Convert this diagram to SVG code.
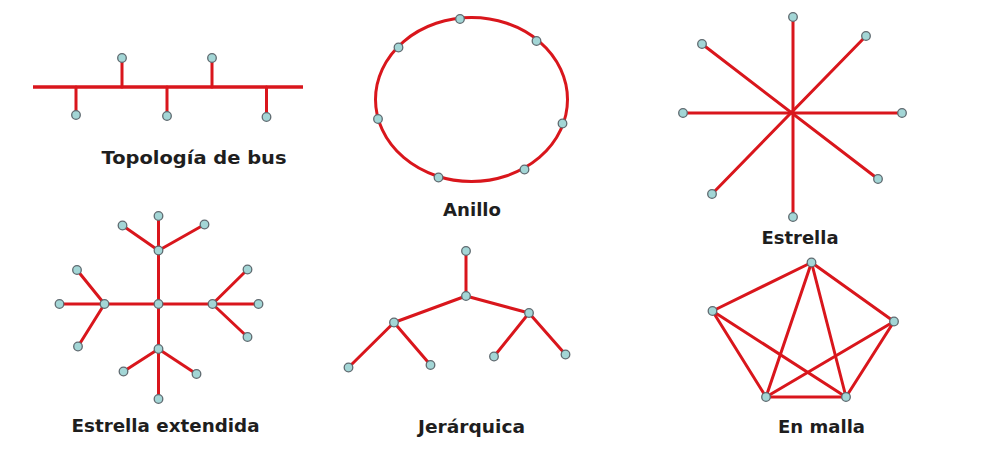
<svg xmlns="http://www.w3.org/2000/svg" width="985" height="475" viewBox="0 0 985 475">
<style>
.e{stroke:#d9161c;stroke-width:3;fill:none;stroke-linecap:round}
.n{fill:#a3d6d6;stroke:#5f6a70;stroke-width:1.3}
.t{font-family:"DejaVu Sans","Liberation Sans",Arial,sans-serif;font-weight:bold;font-size:17.5px;fill:#1e1e1e;text-anchor:middle}
</style>
<defs>
<circle id="nd" r="4.3" class="n"/>
</defs>
<rect width="985" height="475" fill="#ffffff"/>
<g id="connectors">
<line class="e" x1="33" y1="87" x2="303" y2="87" style="stroke-width:3.6;stroke-linecap:butt"/>
<line class="e" x1="122" y1="58" x2="122" y2="87"/>
<line class="e" x1="212" y1="58" x2="212" y2="87"/>
<line class="e" x1="76" y1="87" x2="76" y2="115"/>
<line class="e" x1="167" y1="87" x2="167" y2="116"/>
<line class="e" x1="266.5" y1="87" x2="266.5" y2="117"/>
<ellipse class="e" cx="471.5" cy="99.5" rx="96" ry="82"/>
<line class="e" x1="793" y1="17" x2="793" y2="217"/>
<line class="e" x1="683" y1="113" x2="902" y2="113"/>
<line class="e" x1="702" y1="44" x2="878" y2="179"/>
<line class="e" x1="866" y1="36" x2="712" y2="194"/>
<line class="e" x1="158.5" y1="216" x2="158.5" y2="399"/>
<line class="e" x1="59.5" y1="304" x2="258.5" y2="304"/>
<line class="e" x1="122.5" y1="225.5" x2="158.5" y2="250.5"/>
<line class="e" x1="204.5" y1="224.5" x2="158.5" y2="250.5"/>
<line class="e" x1="77" y1="270" x2="104.5" y2="304"/>
<line class="e" x1="78" y1="346.5" x2="104.5" y2="304"/>
<line class="e" x1="247.5" y1="269.5" x2="212.5" y2="304"/>
<line class="e" x1="247.5" y1="337" x2="212.5" y2="304"/>
<line class="e" x1="123.5" y1="371.5" x2="158.5" y2="349"/>
<line class="e" x1="196.5" y1="374" x2="158.5" y2="349"/>
<line class="e" x1="466" y1="251" x2="466" y2="296"/>
<line class="e" x1="466" y1="296" x2="394" y2="322.5"/>
<line class="e" x1="466" y1="296" x2="529" y2="313"/>
<line class="e" x1="394" y1="322.5" x2="348.5" y2="367.5"/>
<line class="e" x1="394" y1="322.5" x2="430.5" y2="365"/>
<line class="e" x1="529" y1="313" x2="494" y2="356.5"/>
<line class="e" x1="529" y1="313" x2="565.5" y2="354.5"/>
<line class="e" x1="811.5" y1="262.5" x2="712.5" y2="311"/>
<line class="e" x1="811.5" y1="262.5" x2="894" y2="321.5"/>
<line class="e" x1="811.5" y1="262.5" x2="766" y2="397"/>
<line class="e" x1="811.5" y1="262.5" x2="846" y2="397"/>
<line class="e" x1="712.5" y1="311" x2="766" y2="397"/>
<line class="e" x1="712.5" y1="311" x2="846" y2="397"/>
<line class="e" x1="894" y1="321.5" x2="766" y2="397"/>
<line class="e" x1="894" y1="321.5" x2="846" y2="397"/>
<line class="e" x1="766" y1="397" x2="846" y2="397"/>
</g>
<g id="bus">
<use href="#nd" x="122" y="58"/>
<use href="#nd" x="212" y="58"/>
<use href="#nd" x="76" y="115"/>
<use href="#nd" x="167" y="116"/>
<use href="#nd" x="266.5" y="117"/>
<text class="t" x="194" y="163.5" textLength="185" lengthAdjust="spacingAndGlyphs">Topología de bus</text>
</g>
<g id="anillo">
<use href="#nd" x="460" y="19"/>
<use href="#nd" x="536.5" y="41"/>
<use href="#nd" x="398.5" y="47.5"/>
<use href="#nd" x="378" y="119"/>
<use href="#nd" x="562.5" y="123.5"/>
<use href="#nd" x="524.5" y="169.5"/>
<use href="#nd" x="438.5" y="177.5"/>
<text class="t" x="472" y="215.5" textLength="58" lengthAdjust="spacingAndGlyphs">Anillo</text>
</g>
<g id="estrella">
<use href="#nd" x="793" y="17"/>
<use href="#nd" x="866" y="36"/>
<use href="#nd" x="702" y="44"/>
<use href="#nd" x="683" y="113"/>
<use href="#nd" x="902" y="113"/>
<use href="#nd" x="878" y="179"/>
<use href="#nd" x="712" y="194"/>
<use href="#nd" x="793" y="217"/>
<text class="t" x="800" y="243.5" textLength="77" lengthAdjust="spacingAndGlyphs">Estrella</text>
</g>
<g id="estrella-extendida">
<use href="#nd" x="158.5" y="216"/>
<use href="#nd" x="122.5" y="225.5"/>
<use href="#nd" x="204.5" y="224.5"/>
<use href="#nd" x="158.5" y="250.5"/>
<use href="#nd" x="77" y="270"/>
<use href="#nd" x="247.5" y="269.5"/>
<use href="#nd" x="59.5" y="304"/>
<use href="#nd" x="104.5" y="304"/>
<use href="#nd" x="158.5" y="304"/>
<use href="#nd" x="212.5" y="304"/>
<use href="#nd" x="258.5" y="304"/>
<use href="#nd" x="78" y="346.5"/>
<use href="#nd" x="247.5" y="337"/>
<use href="#nd" x="158.5" y="349"/>
<use href="#nd" x="123.5" y="371.5"/>
<use href="#nd" x="196.5" y="374"/>
<use href="#nd" x="158.5" y="399"/>
<text class="t" x="165.5" y="432" textLength="188" lengthAdjust="spacingAndGlyphs">Estrella extendida</text>
</g>
<g id="jerarquica">
<use href="#nd" x="466" y="251"/>
<use href="#nd" x="466" y="296"/>
<use href="#nd" x="394" y="322.5"/>
<use href="#nd" x="529" y="313"/>
<use href="#nd" x="348.5" y="367.5"/>
<use href="#nd" x="430.5" y="365"/>
<use href="#nd" x="494" y="356.5"/>
<use href="#nd" x="565.5" y="354.5"/>
<text class="t" x="471.5" y="433" textLength="107" lengthAdjust="spacingAndGlyphs">Jerárquica</text>
</g>
<g id="en-malla">
<use href="#nd" x="811.5" y="262.5"/>
<use href="#nd" x="712.5" y="311"/>
<use href="#nd" x="894" y="321.5"/>
<use href="#nd" x="766" y="397"/>
<use href="#nd" x="846" y="397"/>
<text class="t" x="821.5" y="433" textLength="87" lengthAdjust="spacingAndGlyphs">En malla</text>
</g>
</svg>
